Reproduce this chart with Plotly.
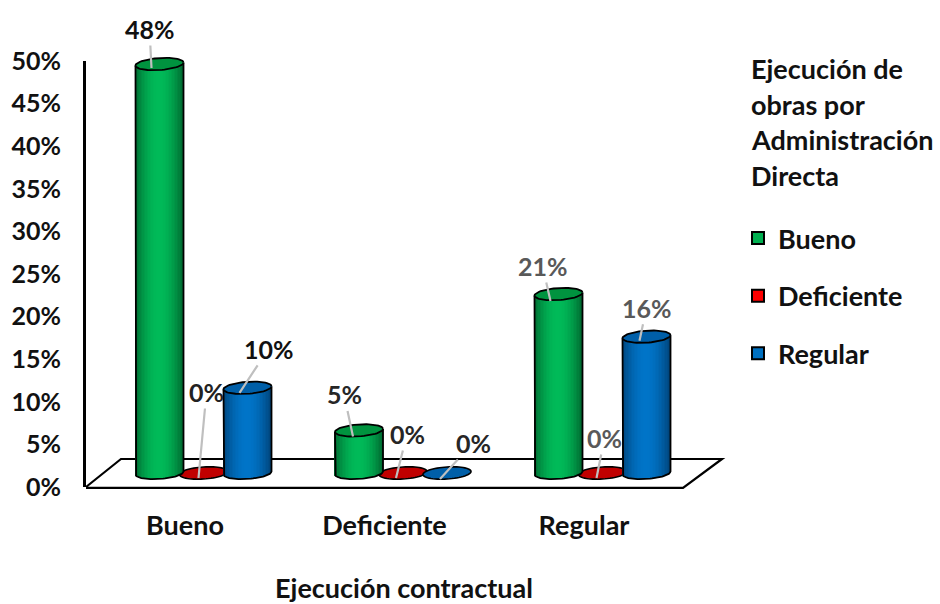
import math
import plotly.graph_objects as go

categories = ["Bueno", "Deficiente", "Regular"]
series_names = ["Bueno", "Deficiente", "Regular"]
bueno = [48, 5, 21]
deficiente = [0, 0, 0]
regular = [10, 0, 16]
y_ticks = [0, 5, 10, 15, 20, 25, 30, 35, 40, 45, 50]
x_title = "Ejecución contractual"
legend_title_lines = ["Ejecución de", "obras por", "Administración", "Directa"]

W, H = 940, 604
FONT = "Lato"
X0, X1 = 86, 722
Y_ZERO, Y_TOP = 487, 61
DEPTH_UP = 14
PX_Y = (Y_ZERO - Y_TOP) / 50
PX_X = 199.5
CAT0 = 185
xr = [(X0 - CAT0) / PX_X, (X1 - CAT0) / PX_X]
SHIFT = 18.5 / PX_X
STEP = 44 / PX_X
HW = 24 / PX_X
D = 6 / PX_Y
TILT = 1.5 / PX_Y
N = 32
BELOW = 4

styles = [
    dict(edge=(0, 105, 48), mid=(0, 186, 88), top="#00933F", flat="#00B050", swatch="#00B050"),
    dict(edge=(150, 0, 0), mid=(192, 0, 0), top="#C00000", flat="#C00000", swatch="#FF0000"),
    dict(edge=(0, 68, 122), mid=(0, 116, 200), top="#005FA8", flat="#005FA8", swatch="#0070C0"),
]
all_series = [bueno, deficiente, regular]

# leader tip offset from bar top centre (px), label offset from tip (px), label colour
label_style = {
    (0, 0): (-8, 4, -2, -39, "#111111"),
    (0, 1): (-5, 5, 8, -86, "#222222"),
    (0, 2): (-8, 5, 29, -44, "#111111"),
    (1, 0): (-6, 6, -9, -42, "#262626"),
    (1, 1): (-7, 5, 11, -44, "#262626"),
    (1, 2): (-7, 6, 33, -36, "#262626"),
    (2, 0): (-8, 7, -8, -35, "#595959"),
    (2, 1): (-6, 5, 8, -40, "#595959"),
    (2, 2): (-7, 4, 7, -33, "#595959"),
}


def mix(a, b, f):
    return tuple(round(a[i] + (b[i] - a[i]) * f) for i in range(3))


def cx(cat, s):
    return cat + SHIFT + (s - 1) * STEP


def ellipse_pts(c, v, a0=0.0, a1=2 * math.pi, n=60):
    xs, ys = [], []
    for k in range(n + 1):
        a = a0 + (a1 - a0) * k / n
        xs.append(c + HW * math.cos(a))
        ys.append(v + D * math.sin(a) + TILT * math.cos(a))
    return xs, ys


def px(x):
    return x / W


def py(y):
    return 1 - y / H


fig = go.Figure()
shapes = []
annotations = []

floor = [(86, 487), (121, 459), (722, 459), (683, 488), (86, 488)]
path = "M " + " L ".join(f"{px(a):.4f},{py(b):.4f}" for a, b in floor)
shapes.append(dict(type="path", xref="paper", yref="paper", path=path, line=dict(color="#000000", width=2.2), layer="below"))

for s, vals in enumerate(all_series):
    st = styles[s]
    bx, by, bb, bc = [], [], [], []
    for cat, v in enumerate(vals):
        c = cx(cat, s)
        if v == 0:
            ex, ey = ellipse_pts(c, 0)
            p = "M " + " L ".join(f"{a:.4f},{b:.4f}" for a, b in zip(ex, ey)) + " Z"
            shapes.append(dict(type="path", xref="x", yref="y2", path=p, fillcolor=st["flat"],
                               line=dict(color="#000000", width=1.6), layer="below"))
            continue
        for k in range(N):
            t = -1 + 2 * (k + 0.5) / N
            f = math.sin((t + 1) * math.pi / 2) ** 0.9
            col = mix(st["edge"], st["mid"], f)
            tilt = TILT * t
            base = -D * math.sqrt(max(0, 1 - t * t)) + tilt
            bx.append(c + t * HW)
            bb.append(base)
            by.append(v + tilt - base)
            bc.append(f"rgb{col}")
    if bx:
        fig.add_trace(go.Bar(x=bx, y=by, base=bb, width=2 * HW / N * 1.25, yaxis="y2",
                             marker=dict(color=bc, line=dict(width=0)), showlegend=False, hoverinfo="skip"))

for s, vals in enumerate(all_series):
    st = styles[s]
    for cat, v in enumerate(vals):
        if v == 0:
            continue
        c = cx(cat, s)
        ax_, ay_ = ellipse_pts(c, 0, math.pi, 2 * math.pi, 40)
        ox = [c - HW, *ax_, c + HW]
        oy = [v - TILT, *ay_, v + TILT]
        fig.add_trace(go.Scatter(x=ox, y=oy, yaxis="y2", mode="lines", line=dict(color="#000000", width=1.8),
                                 showlegend=False, hoverinfo="skip"))
        ex, ey = ellipse_pts(c, v)
        fig.add_trace(go.Scatter(x=ex, y=ey, yaxis="y2", mode="lines", fill="toself", fillcolor=st["top"],
                                 line=dict(color="#000000", width=1.8), showlegend=False, hoverinfo="skip"))

for s, vals in enumerate(all_series):
    for cat, v in enumerate(vals):
        dx, dy, lx, ly, col = label_style[(cat, s)]
        annotations.append(dict(x=cx(cat, s), y=v, xref="x", yref="y2", xshift=dx, yshift=-dy,
                                text=f"{v}%", showarrow=True, ax=lx, ay=ly, arrowhead=0, arrowwidth=2.2,
                                arrowcolor="#BFBFBF", standoff=0, startstandoff=0,
                                font=dict(family=FONT, size=25, color=col, weight="bold")))

for s, name in enumerate(series_names):
    fig.add_trace(go.Scatter(x=[None], y=[None], mode="markers", name=name, legendgroup=name,
                             marker=dict(symbol="square", size=18, color=styles[s]["swatch"],
                                         line=dict(color="#000000", width=2))))

for i, line in enumerate(legend_title_lines):
    annotations.append(dict(xref="paper", yref="paper", x=px(749), y=py(68 + 36 * i), xanchor="left", yanchor="middle",
                            text=line, showarrow=False, font=dict(family=FONT, size=27, color="#111111", weight="bold")))

tick_font = dict(family=FONT, size=25, color="#111111", weight="bold")
big_font = dict(family=FONT, size=27, color="#111111", weight="bold")

fig.update_layout(
    width=W, height=H, autosize=False,
    margin=dict(l=0, r=0, t=0, b=0),
    paper_bgcolor="#FFFFFF", plot_bgcolor="rgba(0,0,0,0)",
    barmode="overlay",
    font=big_font,
    shapes=shapes, annotations=annotations,
    xaxis=dict(domain=[px(X0), px(X1)], range=xr, tickvals=list(range(len(categories))), ticktext=categories,
               showgrid=False, zeroline=False, showline=False, ticks="", ticklabelstandoff=20, automargin=False,
               tickfont=big_font,
               title=dict(text=x_title, standoff=45, font=big_font),
               fixedrange=True, anchor="y"),
    yaxis=dict(domain=[py(Y_ZERO), py(Y_TOP)], range=[0, 50], tickvals=y_ticks,
               ticktext=[f"{t}%" for t in y_ticks], automargin=False,
               showgrid=False, zeroline=False, showline=True, linecolor="#000000", linewidth=3,
               ticks="", ticklabelstandoff=17, fixedrange=True,
               tickfont=tick_font, anchor="x"),
    yaxis2=dict(domain=[py(Y_ZERO - DEPTH_UP + BELOW * PX_Y), py(Y_TOP - DEPTH_UP)], range=[-BELOW, 50],
                visible=False, automargin=False, fixedrange=True, anchor="x"),
    legend=dict(x=px(738), y=py(214), xanchor="left", yanchor="top", tracegroupgap=19.5, bgcolor="rgba(0,0,0,0)",
                itemsizing="constant", font=big_font),
)

fig.write_html("out.html", config={"displayModeBar": False},
               post_script="document.body.style.margin='0';document.documentElement.style.overflow='hidden';")
